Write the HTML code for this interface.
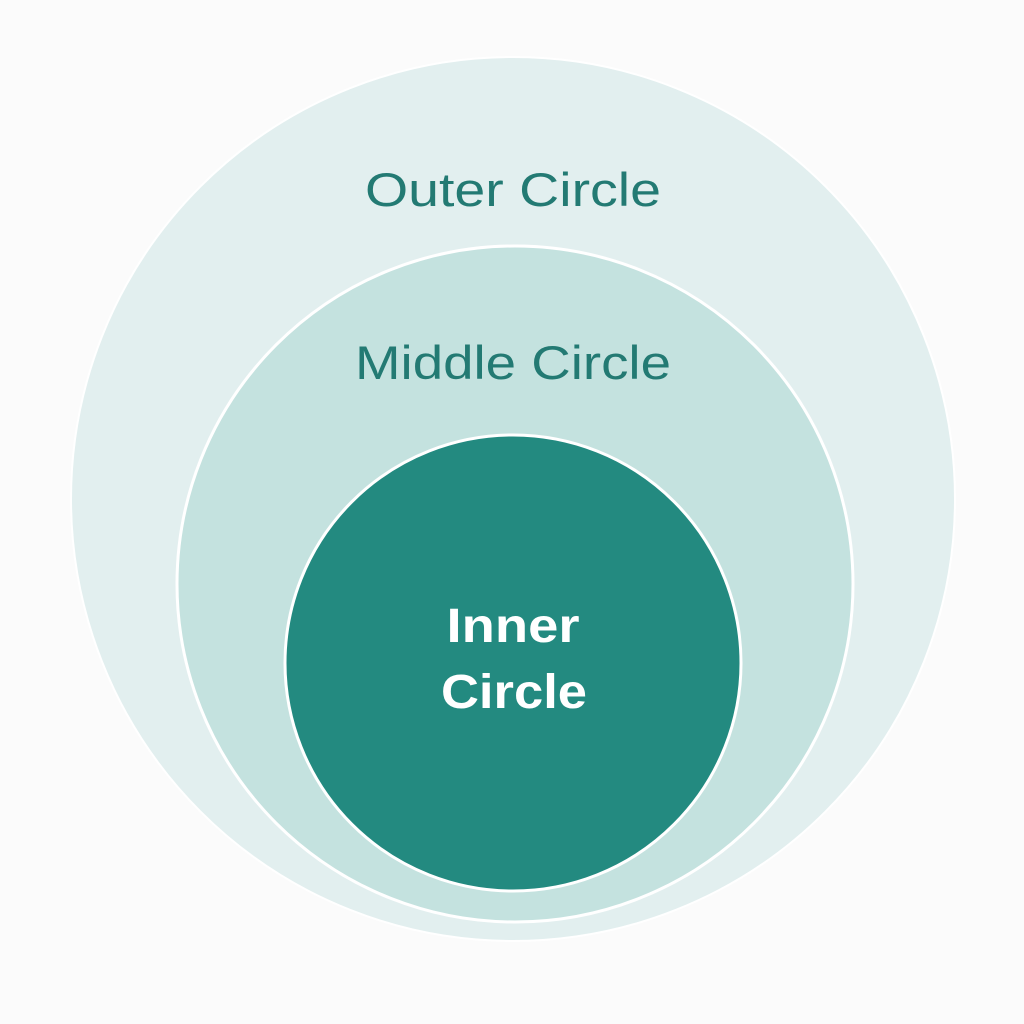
<!DOCTYPE html>
<html><head><meta charset="utf-8"><style>
html,body{margin:0;padding:0;background:#fbfbfb;}
svg{display:block}
</style></head><body>
<svg width="1024" height="1024" viewBox="0 0 1024 1024" xmlns="http://www.w3.org/2000/svg">
<rect width="1024" height="1024" fill="#fbfbfb"/>
<circle cx="513" cy="499" r="442" fill="#e2efef" stroke="#ffffff" stroke-width="2"/>
<circle cx="515" cy="584" r="338" fill="#c4e2df" stroke="#ffffff" stroke-width="3"/>
<circle cx="513" cy="663" r="228" fill="#238a80" stroke="#ffffff" stroke-width="3"/>
<g font-family="Liberation Sans, sans-serif" text-anchor="middle">
<text x="513" y="206" font-size="47" fill="#237a73" textLength="296" lengthAdjust="spacingAndGlyphs">Outer Circle</text>
<text x="513" y="379" font-size="47" fill="#237a73" textLength="316" lengthAdjust="spacingAndGlyphs">Middle Circle</text>
<text x="513" y="642" font-size="48" font-weight="bold" fill="#ffffff" textLength="133" lengthAdjust="spacingAndGlyphs">Inner</text>
<text x="514" y="708" font-size="48" font-weight="bold" fill="#ffffff" textLength="146" lengthAdjust="spacingAndGlyphs">Circle</text>
</g>
</svg>
</body></html>
